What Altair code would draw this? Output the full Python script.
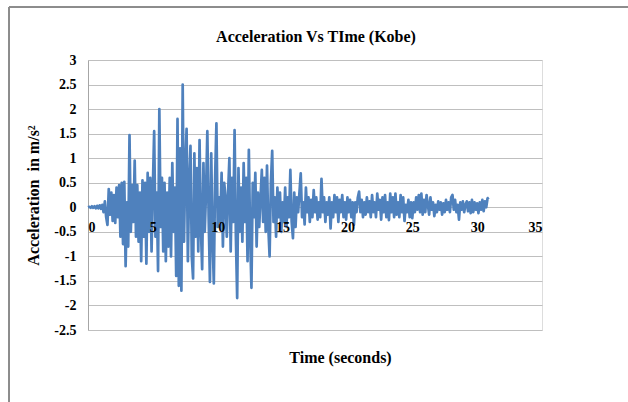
import altair as alt
import pandas as pd

FONT = "Liberation Serif"

# Ground acceleration (m/s^2), one value every 0.1 s
acc = [
    0, 0.01, -0.01, 0.02, -0.01, 0.02, -0.02, 0.03, -0.02, 0.04,
    -0.03, 0.05, -0.1, 0.12, -0.2, -0.36, 0.37, -0.15, 0.3, -0.28,
    0.25, -0.32, 0.4, -0.2, 0.45, -0.6, 0.5, -0.75, 0.52, -1.2,
    0.1, -0.8, 1.47, -0.5, 0.45, -0.3, 0.95, -0.6, 0.45, -0.7,
    0.3, -1.1, 0.55, -0.6, 0.5, -1.15, 0.7, -0.5, 0.6, -0.9,
    0.4, 1.55, -0.6, 0.3, -1.3, 2.0, -0.4, 0.6, -0.9, 0.5,
    -1.1, 0.3, -0.8, 0.6, -1.0, 0.9, -0.5, 0.4, -1.4, 1.8,
    -1.6, 1.2, -1.7, 2.5, -0.7, 0.8, 1.6, -1.1, 0.5, 1.25,
    -1.0, -1.45, 1.1, -0.6, 0.8, -0.9, 1.37, -0.4, -1.26, 0.9,
    -0.5, 0.3, 1.55, -0.2, -1.52, 1.1, -0.6, -1.55, 0.6, 1.71,
    -0.4, 0.2, -0.3, 0.7, -0.8, 0.5, 0.2, -0.6, 0.3, 1.0,
    -0.9, 0.6, -0.3, 1.57, -0.6, -1.85, 0.8, -0.5, 0.4, -0.7,
    0.9, -0.3, 0.6, -1.1, 1.17, -0.6, -1.64, 0.5, -0.2, 0.7,
    -0.8, 0.3, -0.4, 0.2, 0.76, -0.3, 0.6, -0.5, 0.85, -0.4,
    -1.0, 0.5, 1.15, -0.3, 0.2, -0.6, 0.4, -0.2, 0.3, -0.5,
    0.1, -0.3, 0.4, -0.4, 0.2, -0.2, 0.76, -0.3, -0.63, 0.3,
    -0.4, 0.2, -0.1, 0.3, 0.69, -0.2, 0.1, -0.35, 0.4, -0.1,
    0.2, -0.3, 0.15, -0.2, 0.35, -0.1, 0.2, -0.25, 0.1, -0.2,
    0.58, -0.1, 0.2, -0.3, 0.1, -0.15, 0.2, -0.43, 0.1, -0.2,
    0.25, -0.1, 0.2, -0.3, 0.15, -0.1, 0.25, -0.2, 0.1, -0.25,
    0.2, -0.1, 0.15, -0.2, 0.1, -0.36, 0.1, -0.1, 0.2, 0.32,
    -0.1, 0.15, -0.2, 0.1, -0.15, 0.2, -0.1, 0.12, -0.2, 0.25,
    -0.1, 0.1, -0.2, 0.28, -0.05, 0.15, -0.25, 0.2, -0.1, 0.25,
    -0.2, 0.1, -0.26, 0.28, -0.1, 0.2, -0.2, 0.28, -0.15, 0.1,
    -0.2, 0.25, -0.1, 0.2, -0.28, 0.05, -0.1, 0.15, -0.2, 0.1,
    -0.22, 0.1, -0.1, 0.2, -0.05, 0.25, -0.1, 0.28, -0.15, 0.15,
    -0.1, 0.25, 0.05, -0.15, 0.2, -0.05, 0.1, -0.18, 0.05, -0.1,
    0.12, -0.05, 0.1, -0.15, 0.08, -0.1, 0.15, -0.05, 0.1, -0.1,
    0.2, 0.25, -0.05, 0.15, -0.1, 0.05, -0.25, 0.1, -0.05, 0.12,
    -0.1, 0.05, 0.12, -0.08, 0.1, -0.12, 0.15, -0.1, 0.1, -0.05,
    0.08, -0.12, 0.1, -0.05, 0.15, -0.08, 0.12, 0.0, 0.18, 0.2,
]
time = [round(i * 0.1, 1) for i in range(len(acc))]

x_ticks = [0, 5, 10, 15, 20, 25, 30, 35]
y_ticks = [3, 2.5, 2, 1.5, 1, 0.5, 0, -0.5, -1, -1.5, -2, -2.5]
title_text = ["Acceleration Vs TIme (Kobe)"]

df = pd.DataFrame({"time": time, "acc": acc})
title_df = pd.DataFrame({"label": title_text})

line = alt.Chart(df).mark_line(
    color="#4F81BD", strokeWidth=2.7, strokeJoin="round"
).encode(
    x=alt.X(
        "time:Q",
        scale=alt.Scale(domain=[0, 35], nice=False),
        axis=alt.Axis(
            values=x_ticks, title="Time (seconds)", offset=-123,
            domain=False, ticks=False, grid=False, zindex=1,
            labelFont=FONT, labelFontWeight="bold", labelFontSize=14,
            labelColor="black", labelPadding=13,
            titleFont=FONT, titleFontWeight="bold", titleFontSize=16,
            titleColor="black", titleY=142, titleX=252,
        ),
    ),
    y=alt.Y(
        "acc:Q",
        scale=alt.Scale(domain=[-2.5, 3], nice=False, zero=False),
        axis=alt.Axis(
            values=y_ticks, labelExpr="'' + datum.value",
            title="Acceleration \u00a0in m/s²",
            domain=True, domainColor="#a6a6a6", ticks=False,
            grid=True, gridColor="#bfbfbf",
            labelFont=FONT, labelFontWeight="bold", labelFontSize=14,
            labelColor="black", labelPadding=12,
            titleFont=FONT, titleFontWeight="bold", titleFontSize=16,
            titleColor="black", titlePadding=12,
        ),
    ),
)

frame_v = alt.Chart(df).mark_rule(color="#8c8c8c", strokeWidth=1).encode(
    x=alt.value(-79), y=alt.value(-53), y2=alt.value(342)
)
frame_h = alt.Chart(df).mark_rule(color="#8c8c8c", strokeWidth=1).encode(
    x=alt.value(-79), x2=alt.value(540), y=alt.value(-53)
)

title = alt.Chart(title_df).mark_text(
    font=FONT, fontWeight="bold", fontSize=16, color="black",
    align="center", baseline="middle",
).encode(text="label:N", x=alt.value(228), y=alt.value(-23))

chart = alt.layer(frame_v, frame_h, line, title).properties(
    width=454, height=270,
    padding={"left": 88, "top": 60, "right": 86, "bottom": 72},
    autosize=alt.AutoSizeParams(type="none"),
).configure_view(stroke=None).configure(background="white")

chart.save("out.html", embed_options={"renderer": "svg", "actions": False})
